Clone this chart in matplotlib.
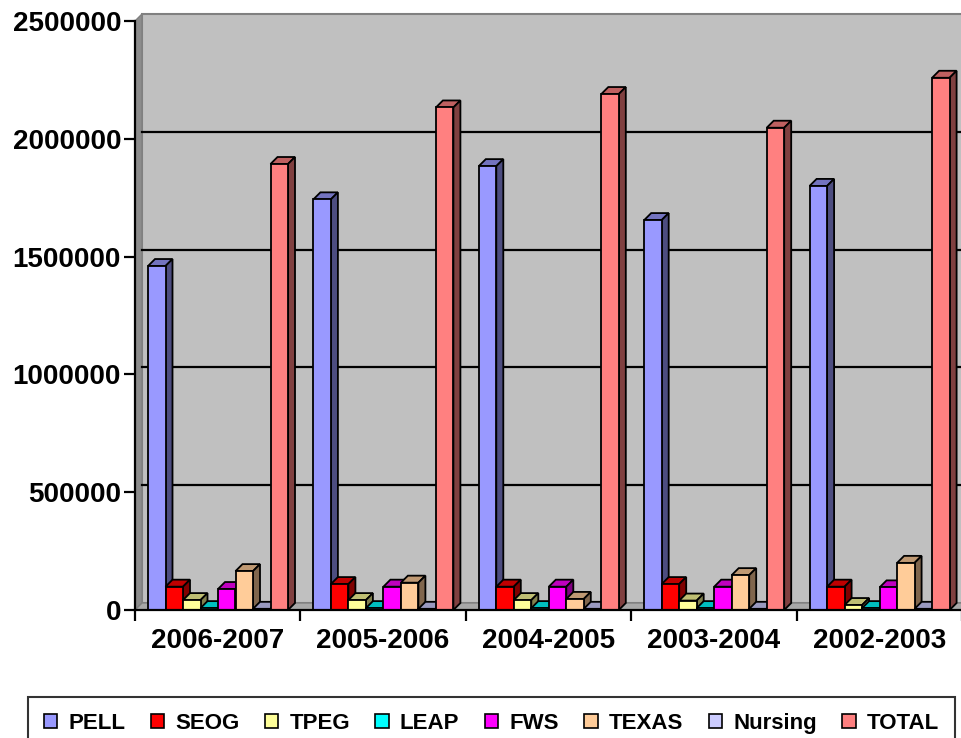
import matplotlib.pyplot as plt
from matplotlib.patches import Polygon, Rectangle
import numpy as np

# school years (left to right as in the chart)
years = ["2006-2007", "2005-2006", "2004-2005", "2003-2004", "2002-2003"]
programs = ["PELL", "SEOG", "TPEG", "LEAP", "FWS", "TEXAS", "Nursing", "TOTAL"]
colors = ["#9999FF", "#FF0000", "#FFFF99", "#00FFFF", "#FF00FF", "#FFCC99", "#CCCCFF", "#FF8080"]

pell = [1460000, 1743000, 1884000, 1655000, 1800000]
seog = [99000, 110000, 99000, 110000, 99000]
tpeg = [42000, 42000, 42000, 40000, 21000]
leap = [8000, 8000, 8000, 8000, 8000]
fws = [89000, 99000, 99000, 99000, 96000]
texas = [165000, 116000, 47000, 148000, 200000]
nursing = [5000, 5000, 5000, 5000, 5000]
total = [1893000, 2133000, 2190000, 2047000, 2259000]

y_ticks = [0, 500000, 1000000, 1500000, 2000000, 2500000]

series = [pell, seog, tpeg, leap, fws, texas, nursing, total]

plt.rcParams['font.family'] = ['Liberation Sans', 'DejaVu Sans']

fig = plt.figure(figsize=(9.62, 7.38), dpi=100)
ax_w_px, ax_h_px = 827, 589
ax = fig.add_axes([135 / 962, 1 - 610 / 738, ax_w_px / 962, ax_h_px / 738])
ax.set_facecolor("none")

n_cat = len(years)
y_max = y_ticks[-1]
ax.set_xlim(0, n_cat)
ax.set_ylim(0, y_max)

# 3D depth offset (7 px) in axes and data units
depth_px = 7
dxa, dya = depth_px / ax_w_px, depth_px / ax_h_px
dx = dxa * n_cat
dy = dya * y_max


def shade(c, f):
    r, g, b = plt.matplotlib.colors.to_rgb(c)
    return (r * f, g * f, b * f)


# back wall, side wall and floor
ax.add_patch(Rectangle((dxa, dya), 1.2, 1, transform=ax.transAxes, facecolor="#C0C0C0",
                       edgecolor="#808080", lw=1.5, zorder=0, clip_on=False))
ax.add_patch(Polygon([(0, 0), (dxa, dya), (dxa, 1 + dya), (0, 1)], transform=ax.transAxes,
                     facecolor="#8C8C8C", edgecolor="#808080", lw=1, zorder=0.2, clip_on=False))
ax.add_patch(Polygon([(0, 0), (1.2, 0), (1.2 + dxa, dya), (dxa, dya)], transform=ax.transAxes,
                     facecolor="#A8A8A8", edgecolor="#808080", lw=1, zorder=0.3, clip_on=False))

# gridlines on the back wall
for v in y_ticks[1:-1]:
    ax.plot([dxa, 1.2], [v / y_max + dya] * 2, transform=ax.transAxes, color="black",
            lw=1.6, zorder=0.5, clip_on=False)

# bars
bar_w = 17.5 / (ax_w_px / n_cat)
offset = 13 / (ax_w_px / n_cat)
x = np.arange(n_cat)
for j, (vals, c) in enumerate(zip(series, colors)):
    lefts = x + offset + j * bar_w
    z = 2 + 2 * j
    for x0, h in zip(lefts, vals):
        x1 = x0 + bar_w
        ax.add_patch(Polygon([(x0, h), (x1, h), (x1 + dx, h + dy), (x0 + dx, h + dy)],
                             facecolor=shade(c, 0.75), edgecolor="black", lw=1.3, zorder=z))
        ax.add_patch(Polygon([(x1, 0), (x1, h), (x1 + dx, h + dy), (x1 + dx, dy)],
                             facecolor=shade(c, 0.5), edgecolor="black", lw=1.3, zorder=z))
    ax.bar(lefts, vals, width=bar_w, align="edge", color=c, edgecolor="black",
           lw=1.3, zorder=z + 1)

# axes
for s in ["top", "right"]:
    ax.spines[s].set_visible(False)
for s in ["left", "bottom"]:
    ax.spines[s].set_linewidth(1.6)
    ax.spines[s].set_zorder(30)

ax.set_yticks(y_ticks)
ax.set_yticklabels([str(v) for v in y_ticks], fontsize=20, fontweight="bold")
ax.tick_params(axis="y", length=8, width=1.6, pad=2)

ax.set_xticks(np.arange(n_cat + 1))
ax.set_xticklabels([])
ax.tick_params(axis="x", which="major", length=8, width=1.6)
ax.set_xticks(x + 0.5, minor=True)
ax.set_xticklabels(years, minor=True, fontsize=20, fontweight="bold")
ax.tick_params(axis="x", which="minor", length=0, pad=13)

handles = [Rectangle((0, 0), 1, 1, facecolor=c, edgecolor="black", lw=1.2) for c in colors]
leg = fig.legend(handles, programs, loc="upper left", bbox_to_anchor=(28 / 962, 1 - 697 / 738),
                 ncol=8, frameon=True, fancybox=False, shadow=False, borderpad=0.7,
                 handlelength=0.6, handleheight=0.6, handletextpad=0.5, columnspacing=1.15,
                 borderaxespad=0,
                 prop={"family": ["Liberation Sans", "DejaVu Sans"], "weight": "bold", "size": 16})
leg.get_frame().set_edgecolor("black")
leg.get_frame().set_linewidth(1.5)

fig.savefig("out.png", dpi=100)
